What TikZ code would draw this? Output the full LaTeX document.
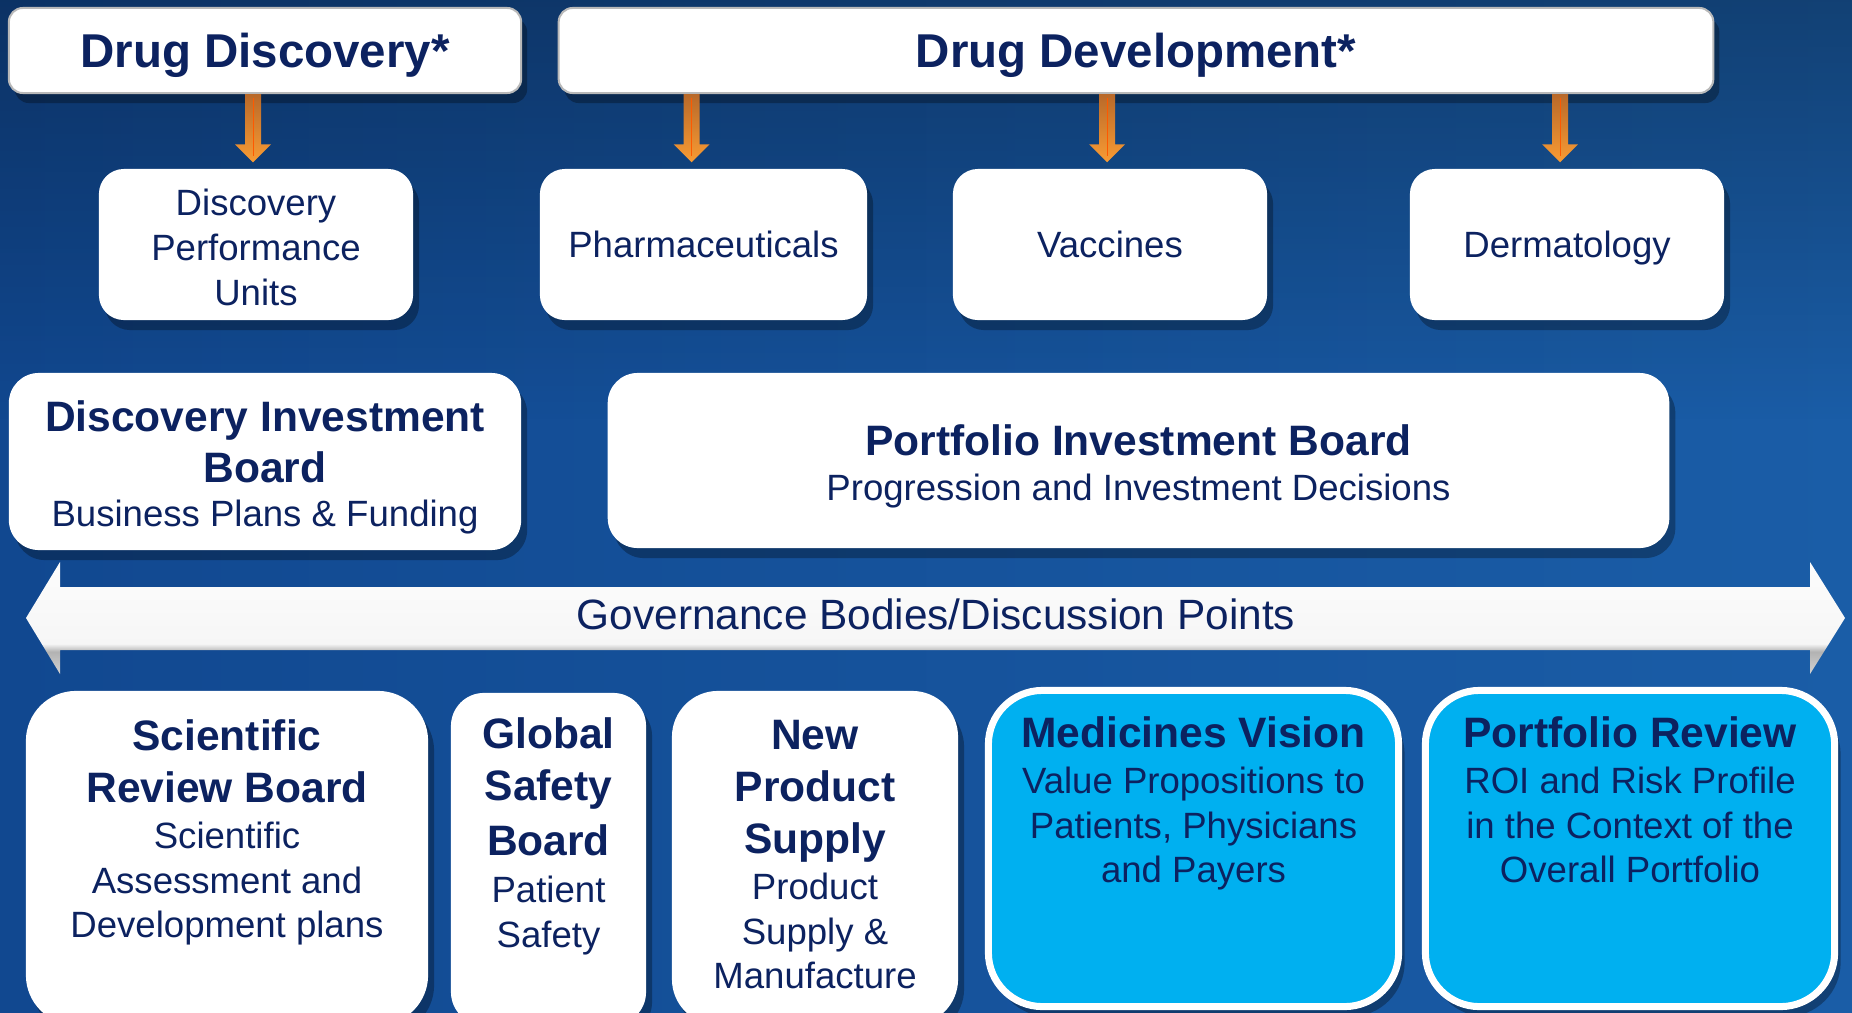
\documentclass[tikz,border=0pt]{standalone}
\usepackage{fontspec}
\setmainfont{Liberation Sans}
\usetikzlibrary{shadows,calc,fadings}

\definecolor{navytext}{HTML}{0C2260}
\definecolor{bgleft}{HTML}{114890}
\definecolor{bgright}{HTML}{1A5DA7}
\definecolor{cyanbox}{HTML}{00B0F0}
\definecolor{orangetop}{HTML}{B8692A}
\definecolor{orangebot}{HTML}{F99B33}

\pgfdeclareverticalshading{govshade}{100bp}{color(0bp)=(gray!35); color(25bp)=(gray!35);
    color(35bp)=(gray!60); color(38.5bp)=(white!93!gray); color(75bp)=(white!98!gray); color(100bp)=(white!98!gray)}

\newcommand\regfont{\fontsize{10.4}{12.7}\selectfont}
\newcommand\hd[1]{{\fontsize{12.1}{14.8}\selectfont\bfseries #1}}
\newcommand\hdr[1]{{\fontsize{13.5}{16}\selectfont\bfseries #1}}

\tikzset{
  box/.style={fill=white, text=navytext, align=center, inner sep=0pt, font=\regfont},
  boxshadow/.style={drop shadow={shadow xshift=0.06cm, shadow yshift=-0.1cm, opacity=0.3, fill=black}},
  headbox/.style={box, boxshadow, draw=gray!55, line width=0.02cm, rounded corners=0.14cm, text depth=0pt},
  unitbox/.style={box, boxshadow, rounded corners=0.25cm},
  boardbox/.style={box, boxshadow, rounded corners=0.3cm},
  panelbox/.style={box, boxshadow},
  cyanpanel/.style={fill=cyanbox, draw=white, line width=0.07cm, rounded corners=0.54cm, boxshadow},
  paneltext/.style={text=navytext, align=center, inner sep=0pt, font=\regfont, anchor=north},
  downarrow/.style={top color=orangetop, bottom color=orangebot},
}

\begin{document}
\begin{tikzpicture}[x=0.01cm, y=-0.01cm]
    \useasboundingbox (0,0) rectangle (1852,1012);
    \clip (0,0) rectangle (1852,1012);

    % background
    \shade[left color=bgleft, right color=bgright] (0,0) rectangle (1852,1012);
    \fill[black, opacity=0.3, path fading=south] (0,0) rectangle (1852,420);

    % top row
    \node[headbox, minimum width=5.12cm, minimum height=0.85cm] (dd) at (265,50.5) {\hdr{Drug Discovery*}};
    \node[headbox, minimum width=11.54cm, minimum height=0.85cm] (dev) at (1136,50.5) {\hdr{Drug Development*}};

    % units
    \node[unitbox, minimum width=3.14cm, minimum height=1.51cm] (dpu) at (256,244.5) {};
    \node[paneltext, anchor=center] (dpuT) at ($(dpu.center)+(0,3)$) {Discovery\\Performance\\Units};
    \node[unitbox, text depth=0pt, minimum width=3.27cm, minimum height=1.51cm] (pharma) at (703.5,244.5) {Pharmaceuticals};
    \node[unitbox, text depth=0pt, minimum width=3.14cm, minimum height=1.51cm] (vac) at (1110,244.5) {Vaccines};
    \node[unitbox, text depth=0pt, minimum width=3.14cm, minimum height=1.51cm] (derm) at (1567,244.5) {Dermatology};

    \foreach \src/\tgt/\dx in {dd/dpu/-3, dev/pharma/-12, dev/vac/-3, dev/derm/-7}{
        \shade[downarrow] ($(\src.south -| \tgt.north)+(\dx-8,0)$) -- ($(\tgt.north)+(\dx-8,-24)$)
            -- ($(\tgt.north)+(\dx-18,-24)$) -- ($(\tgt.north)+(\dx,-6)$) -- ($(\tgt.north)+(\dx+18,-24)$)
            -- ($(\tgt.north)+(\dx+8,-24)$) -- ($(\src.south -| \tgt.north)+(\dx+8,0)$) -- cycle;
        \draw[orange!70!red, line width=0.006cm] ($(\src.south -| \tgt.north)+(\dx,4)$) -- ($(\tgt.north)+(\dx,-12)$);
    }

    % boards
    \node[boardbox, minimum width=5.12cm, minimum height=1.77cm] (dib) at (265,461.5) {};
    \node[paneltext, anchor=center] (dibT) at ($(dib.center)+(0,6)$)
        {\hd{Discovery Investment}\\[1.8pt]\hd{Board}\\Business Plans \& Funding};
    \node[boardbox, minimum width=10.61cm, minimum height=1.75cm] (pib) at (1138.5,460.5) {};
    \node[paneltext, anchor=center] (pibT) at ($(pib.center)+(0,6)$)
        {\hd{Portfolio Investment Board}\\Progression and Investment Decisions};

    % governance arrow
    \shade[shading=govshade]
        (26,618) -- (60,562) -- (60,587) -- (1810,587) -- (1810,562) -- (1845,618)
        -- (1810,674) -- (1810,650) -- (60,650) -- (60,674) -- cycle;
    \node[text=navytext, font=\fontsize{12.05}{14}\selectfont] (gov) at (936,614) {Governance Bodies/Discussion Points};

    % bottom panels
    \node[panelbox, rounded corners=0.5cm, minimum width=4.02cm, minimum height=3.34cm] (srb) at (227,858) {};
    \node[panelbox, rounded corners=0.33cm, minimum width=1.95cm, minimum height=3.32cm] (gsb) at (548.5,859) {};
    \node[panelbox, rounded corners=0.46cm, minimum width=2.86cm, minimum height=3.34cm] (nps) at (815,858) {};
    \node[cyanpanel, minimum width=4.10cm, minimum height=3.16cm] (mv) at (1193.5,848.5) {};
    \node[cyanpanel, minimum width=4.09cm, minimum height=3.16cm] (pr) at (1630,848.5) {};

    \node[paneltext] (srbT) at ($(srb.north)+(0,29)$)
        {\hd{Scientific}\\[2.1pt]\hd{Review Board}\\[0.3pt]Scientific\\Assessment and\\Development plans};
    \node[paneltext] (gsbT) at ($(gsb.north)+(0,25)$)
        {\hd{Global}\\[2.1pt]\hd{Safety}\\[2.8pt]\hd{Board}\\[0.8pt]Patient\\Safety};
    \node[paneltext] (npsT) at ($(nps.north)+(0,29)$)
        {\hd{New}\\[2.1pt]\hd{Product}\\[2.1pt]\hd{Supply}\\[0.4pt]Product\\Supply \&\\Manufacture};
    \node[paneltext] (mvT) at ($(mv.north)+(0,29)$)
        {\hd{Medicines Vision}\\[0.4pt]Value Propositions to\\Patients, Physicians\\and Payers};
    \node[paneltext] (prT) at ($(pr.north)+(0,29)$)
        {\hd{Portfolio Review}\\[0.4pt]ROI and Risk Profile\\in the Context of the\\Overall Portfolio};
\end{tikzpicture}
\end{document}
